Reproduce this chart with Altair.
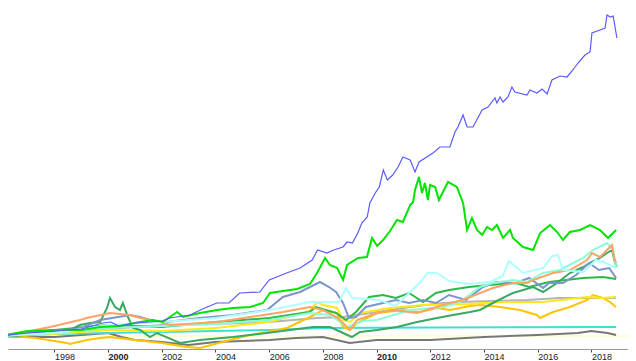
import altair as alt
import pandas as pd

# ---- data (index levels; start = 100) ----
blue_years = [1996.0, 1997.0, 1998.0, 1999.0, 1999.8, 2000.1, 2000.4, 2001.0, 2001.55, 2002.0, 2002.3, 2003.05,
              2003.6, 2004.05, 2004.5, 2004.9, 2005.65, 2006.0, 2006.65, 2007.15, 2007.6, 2007.8, 2008.15, 2008.4,
              2008.75, 2008.9, 2009.1, 2009.3, 2009.45, 2009.65, 2009.75, 2009.95, 2010.1, 2010.25, 2010.4, 2010.6,
              2010.8, 2010.98, 2011.25, 2011.43, 2011.58, 2012.1, 2012.36, 2012.73, 2012.92, 2013.03, 2013.22,
              2013.37, 2013.59, 2013.93, 2014.15, 2014.41, 2014.48, 2014.6, 2014.71, 2014.89, 2015.04, 2015.15,
              2015.6, 2015.71, 2015.97, 2016.16, 2016.35, 2016.53, 2016.83, 2017.09, 2017.31, 2017.5, 2017.76,
              2017.95, 2018.02, 2018.32, 2018.51, 2018.58, 2018.7, 2018.81, 2018.95]
blue_values = [100, 112, 120, 128, 152, 156, 140, 152, 156, 160, 172, 184,
               212, 232, 232, 272, 276, 324, 352, 372, 404, 444, 432, 444,
               456, 476, 472, 512, 552, 576, 632, 672, 696, 764, 724, 744,
               776, 816, 804, 756, 796, 832, 856, 856, 916, 936, 984,
               936, 936, 1004, 1016, 1052, 1032, 1056, 1036, 1056, 1096, 1076,
               1064, 1084, 1072, 1088, 1068, 1124, 1140, 1136, 1164, 1192, 1224,
               1236, 1312, 1324, 1332, 1384, 1376, 1380, 1292]

green_years = [1996.0, 1997.0, 1998.0, 1999.0, 1999.7, 2000.44, 2001.19, 2001.67, 2002.04, 2002.57, 2002.79, 2003.42,
               2004.06, 2004.65, 2005.29, 2005.77, 2006.03, 2006.51, 2007.04, 2007.52, 2007.78, 2008.08, 2008.26,
               2008.53, 2008.75, 2008.9, 2009.31, 2009.64, 2009.83, 2010.02, 2010.24, 2010.5, 2010.76, 2010.98,
               2011.25, 2011.36, 2011.43, 2011.58, 2011.69, 2011.8, 2011.91, 2011.99, 2012.18, 2012.32, 2012.66,
               2012.99, 2013.22, 2013.37, 2013.55, 2013.74, 2013.93, 2014.11, 2014.3, 2014.48, 2014.71, 2014.97,
               2015.08, 2015.45, 2015.83, 2016.09, 2016.46, 2016.72, 2016.94, 2017.2, 2017.58, 2017.95, 2018.32,
               2018.62, 2018.92]
green_values = [100, 120, 124, 124, 136, 140, 156, 164, 156, 196, 176, 192,
                204, 212, 216, 232, 272, 280, 288, 308, 352, 412, 384,
                372, 324, 384, 412, 416, 492, 460, 484, 520, 564, 556,
                624, 636, 684, 736, 672, 712, 644, 704, 696, 644, 716,
                696, 632, 524, 572, 524, 504, 536, 524, 544, 492, 524,
                492, 456, 444, 512, 544, 516, 484, 516, 524, 544, 524,
                492, 524]

cyan_years = [1996.0, 1998.0, 2000.0, 2002.0, 2004.0, 2006.0, 2007.5, 2008.6, 2008.86, 2009.1, 2010.1, 2010.7,
              2011.6, 2011.9, 2012.25, 2012.7, 2013.45, 2014.2, 2014.7, 2014.93, 2015.45, 2016.2, 2016.55,
              2016.75, 2016.94, 2017.7, 2018.17, 2018.54, 2018.92]
cyan_values = [100, 112, 144, 156, 172, 204, 236, 236, 292, 252, 244, 220,
               312, 352, 352, 320, 308, 316, 340, 400, 352, 372, 420,
               424, 364, 356, 404, 392, 372]

orange_years = [1996.0, 1997.84, 1998.95, 1999.2, 2000.07, 2000.82, 2001.19, 2001.93, 2002.31, 2004.06, 2005.29,
                2006.51, 2007.52, 2008.0, 2008.5, 2008.75, 2009.0, 2009.27, 2010.02, 2010.6, 2011.5, 2012.47,
                2013.2, 2014.33, 2015.08, 2015.6, 2015.83, 2016.57, 2017.2, 2017.84, 2018.02, 2018.32, 2018.58,
                2018.77, 2018.84, 2018.92]
orange_values = [96, 136, 164, 172, 192, 184, 172, 156, 144, 156, 176,
                 196, 216, 204, 176, 152, 124, 164, 192, 204, 192, 224,
                 244, 292, 312, 312, 324, 352, 364, 404, 432, 416, 444,
                 464, 416, 392]

aqua_years = [1996.0, 1998.0, 2000.0, 2002.0, 2004.0, 2006.0, 2007.52, 2008.27, 2008.9, 2009.5, 2010.02, 2011.25,
              2012.5, 2013.11, 2013.85, 2014.33, 2015.08, 2015.6, 2016.2, 2016.83, 2017.69, 2018.06, 2018.58,
              2018.81, 2018.92]
aqua_values = [100, 112, 132, 140, 148, 164, 192, 184, 136, 160, 164, 204,
               216, 236, 296, 312, 324, 316, 352, 364, 412, 444, 472,
               444, 376]

steel_years = [1996.0, 1997.0, 1998.0, 1999.0, 1999.7, 2000.82, 2001.19, 2001.82, 2002.19, 2003.42, 2004.65,
               2005.92, 2006.51, 2007.15, 2007.89, 2008.23, 2008.49, 2008.75, 2008.97, 2009.23, 2009.6, 2010.24,
               2010.72, 2011.21, 2011.73, 2012.21, 2012.7, 2013.33, 2013.96, 2014.45, 2015.19, 2015.68, 2016.2,
               2016.42, 2016.94, 2017.43, 2017.91, 2018.28, 2018.66, 2018.92]
steel_values = [100, 108, 116, 132, 164, 184, 176, 156, 156, 172, 184,
                204, 256, 276, 316, 296, 276, 232, 172, 176, 216, 232,
                244, 232, 244, 232, 264, 244, 296, 316, 312, 332, 292,
                312, 312, 344, 392, 364, 372, 332]

mgreen_years = [1996.0, 1998.0, 2000.0, 2002.0, 2004.0, 2006.0, 2007.5, 2007.74, 2008.49, 2008.86, 2009.23,
                2009.72, 2010.24, 2010.72, 2011.21, 2011.73, 2012.21, 2012.7, 2013.44, 2014.19, 2015.19,
                2015.68, 2016.42, 2017.69, 2018.43, 2018.92]
mgreen_values = [100, 124, 144, 136, 156, 172, 196, 216, 192, 164, 196,
                 256, 264, 252, 272, 236, 272, 284, 296, 304, 312,
                 296, 316, 332, 336, 328]

sea_years = [1996.0, 1997.84, 1998.58, 1998.95, 1999.33, 1999.7, 1999.96, 2000.07, 2000.26, 2000.44, 2000.55,
             2000.74, 2000.93, 2001.19, 2001.56, 2001.82, 2002.68, 2003.42, 2004.65, 2005.92, 2007.63, 2008.27,
             2008.75, 2009.08, 2009.38, 2010.02, 2010.76, 2011.51, 2012.25, 2012.85, 2013.48, 2013.85, 2014.33,
             2015.08, 2015.83, 2016.2, 2016.72, 2017.2, 2017.69, 2018.02, 2018.32, 2018.58, 2018.77, 2018.88,
             2018.95]
sea_values = [96, 112, 124, 144, 152, 156, 212, 252, 216, 204, 232,
              176, 132, 124, 96, 112, 72, 84, 96, 112, 136, 136,
              112, 96, 116, 124, 136, 156, 172, 184, 196, 204, 232,
              272, 296, 276, 312, 352, 376, 396, 412, 432, 444, 392,
              376]

gold_years = [1996.0, 1997.3, 1998.47, 1998.58, 1999.21, 1999.7, 2000.07, 2001.0, 2002.0, 2002.94, 2003.42,
              2004.54, 2005.29, 2005.92, 2006.66, 2007.52, 2008.0, 2008.53, 2008.75, 2009.01, 2009.27, 2010.02,
              2011.0, 2011.62, 2012.25, 2012.73, 2013.48, 2013.85, 2014.6, 2015.34, 2015.97, 2016.09, 2016.57,
              2017.2, 2017.84, 2018.06, 2018.43, 2018.69, 2018.92]
gold_values = [104, 92, 72, 68, 84, 92, 96, 84, 72, 56, 52,
               84, 104, 116, 132, 176, 204, 192, 136, 124, 152, 192,
               204, 196, 212, 204, 220, 224, 216, 204, 184, 172, 196,
               216, 244, 264, 252, 236, 216]

yellow_years = [1996.0, 1998.0, 2000.0, 2002.0, 2004.0, 2006.0, 2007.5, 2007.78, 2008.0, 2008.53, 2008.75,
                2009.01, 2009.38, 2010.5, 2011.73, 2013.48, 2014.6, 2016.2, 2017.2, 2017.84, 2018.43, 2018.92]
yellow_values = [100, 108, 124, 120, 132, 156, 200, 236, 224, 212, 164,
                 156, 192, 212, 224, 228, 236, 236, 248, 256, 252, 256]

lgray_years = [1996.0, 1998.0, 2000.0, 2002.0, 2004.0, 2006.0, 2007.78, 2008.75, 2010.02, 2011.25, 2012.47,
               2013.11, 2014.33, 2015.6, 2016.83, 2018.06, 2018.92]
lgray_values = [100, 112, 128, 144, 148, 156, 172, 176, 196, 216, 232,
                236, 240, 244, 252, 252, 252]

turq_years = [1996.0, 1998.0, 2000.0, 2002.0, 2004.0, 2006.0, 2008.0, 2012.0, 2018.92]
turq_values = [100, 108, 112, 116, 120, 124, 132, 134, 136]

dgray_years = [1996.0, 1997.0, 1998.0, 1999.5, 2000.0, 2000.5, 2001.0, 2002.0, 2003.0, 2004.0, 2005.0, 2006.0,
               2007.0, 2008.0, 2009.0, 2010.0, 2012.0, 2014.0, 2016.0, 2017.5, 2018.0, 2018.6, 2018.92]
dgray_values = [100, 96, 96, 108, 112, 96, 84, 76, 64, 76, 80, 84,
                92, 96, 72, 84, 84, 96, 104, 112, 120, 112, 104]

baseline_value = [100]

tick_years = [1998, 2000, 2002, 2004, 2006, 2008, 2010, 2012, 2014, 2016, 2018]

# name, years, values, colour, stroke width  (drawn bottom to top)
series = [
    ("dgray", dgray_years, dgray_values, "#777777", 2.0),
    ("turq", turq_years, turq_values, "#40e0d0", 2.0),
    ("lgray", lgray_years, lgray_values, "#b4b4b4", 2.0),
    ("gold", gold_years, gold_values, "#ffc400", 2.0),
    ("yellow", yellow_years, yellow_values, "#ffe81a", 2.0),
    ("mgreen", mgreen_years, mgreen_values, "#2fb84a", 2.0),
    ("sea", sea_years, sea_values, "#3aa865", 2.0),
    ("steel", steel_years, steel_values, "#7a97c8", 2.0),
    ("aqua", aqua_years, aqua_values, "#88ffd8", 2.0),
    ("orange", orange_years, orange_values, "#ffa466", 2.0),
    ("cyan", cyan_years, cyan_values, "#b0ffff", 2.0),
    ("green", green_years, green_values, "#00e400", 2.0),
    ("blue", blue_years, blue_values, "#5a5aff", 1.2),
]

x_scale = alt.Scale(domain=[1996.272, 2019.363], nice=False, zero=False)
y_scale = alt.Scale(domain=[48, 1412], nice=False, zero=False)

x_axis = alt.Axis(
    values=tick_years, format="d", grid=False, domain=True, domainColor="#999999",
    ticks=True, tickSize=3, tickColor="#444444", labelAlign="left", labelBaseline="top",
    labelPadding=0, labelFontSize=9, labelFont="Liberation Sans", labelColor="#222222",
    labelFontWeight=alt.expr("datum.value % 10 === 0 ? 'bold' : 'normal'"),
    labelOverlap=False, labelFlush=False, title=None,
)

layers = []
for i, (name, yrs, vals, col, w) in enumerate(series):
    df = pd.DataFrame({"year": yrs, "value": vals})
    ch = alt.Chart(df).mark_line(color=col, strokeWidth=w, clip=True).encode(
        x=alt.X("year:Q", scale=x_scale, axis=x_axis),
        y=alt.Y("value:Q", scale=y_scale, axis=None),
    )
    layers.append(ch)

base_rule = alt.Chart(pd.DataFrame({"v": baseline_value})).mark_rule(
    color="#ffff99", strokeWidth=1.2
).encode(y=alt.Y("v:Q", scale=y_scale, axis=None))

chart = alt.layer(base_rule, *layers).properties(
    width=620, height=341,
    background="white",
    autosize=alt.AutoSizeParams(type="none"),
    padding={"left": 0, "top": 0, "right": 0, "bottom": 13},
).configure_view(stroke=None)

chart.save("out.html", embed_options={"renderer": "svg", "actions": False})
